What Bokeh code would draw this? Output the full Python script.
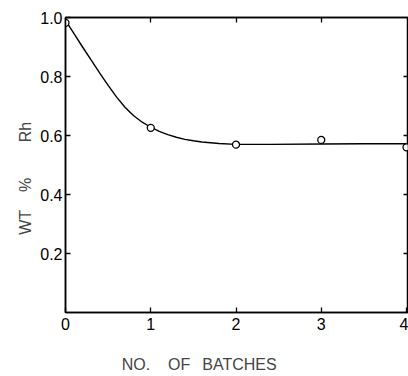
from bokeh.plotting import figure
from bokeh.models import Range1d, LinearAxis, FixedTicker, PrintfTickFormatter
from bokeh.embed import file_html
from bokeh.resources import INLINE

# ---- data ----
batches = [0, 1, 2, 3, 4]
wt_rh = [0.982, 0.626, 0.569, 0.585, 0.560]

curve_x = [0.0, 0.1, 0.2, 0.3, 0.4, 0.5, 0.6, 0.7, 0.8, 0.9, 1.0, 1.1, 1.2,
           1.3, 1.4, 1.5, 1.6, 1.8, 2.0, 2.4, 3.0, 3.5, 4.0]
curve_y = [0.99, 0.945, 0.900, 0.856, 0.812, 0.770, 0.730, 0.695, 0.667,
           0.645, 0.628, 0.614, 0.603, 0.594, 0.587, 0.582, 0.578, 0.573,
           0.570, 0.570, 0.571, 0.572, 0.572]

x_ticks = [0, 1, 2, 3, 4]
y_ticks = [0.2, 0.4, 0.6, 0.8, 1.0]
side_y_ticks = [0.2, 0.4, 0.6, 0.8]
top_x_ticks = [1, 2, 3]

NB = "\u00a0"
x_title = "NO." + NB * 4 + "OF" + NB * 2 + "\u2009" + "BATCHES" + NB * 17
y_title = "WT" + NB * 4 + "%" + NB * 8 + "Rh" + NB * 6

FONT = "Liberation Sans"

p = figure(width=408, height=376,
           x_range=Range1d(0, 4.023), y_range=Range1d(0, 1.0),
           x_axis_type=None, y_axis_type=None,
           output_backend="svg", toolbar_location=None,
           min_border_left=65, min_border_right=0,
           min_border_top=17, min_border_bottom=64)

p.outline_line_color = "black"
p.outline_line_width = 1.5
p.background_fill_color = "white"
p.border_fill_color = "white"


def style(ax, labels=True):
    ax.axis_line_color = "black"
    ax.axis_line_width = 1.5
    ax.major_tick_in = 5
    ax.major_tick_out = 0
    ax.major_tick_line_width = 1.3
    ax.major_tick_line_color = "black"
    ax.minor_tick_in = 0
    ax.minor_tick_out = 0
    ax.major_label_text_font = FONT
    ax.major_label_text_font_size = "16px"
    ax.major_label_text_color = "black"
    if not labels:
        ax.major_label_text_font_size = "0px"
        ax.major_label_text_color = None
        ax.major_label_standoff = 0


xb = LinearAxis(ticker=FixedTicker(ticks=x_ticks))
style(xb)
xb.major_label_standoff = 5
xb.axis_label = x_title
xb.axis_label_text_font = FONT
xb.axis_label_text_font_size = "16px"
xb.axis_label_text_font_style = "normal"
xb.axis_label_standoff = 23
p.add_layout(xb, "below")

yl = LinearAxis(ticker=FixedTicker(ticks=y_ticks),
                formatter=PrintfTickFormatter(format="%.1f"))
style(yl)
yl.major_label_standoff = 3
yl.axis_label = y_title
yl.axis_label_text_font = FONT
yl.axis_label_text_font_size = "16px"
yl.axis_label_text_font_style = "normal"
yl.axis_label_standoff = 3
p.add_layout(yl, "left")

xt = LinearAxis(ticker=FixedTicker(ticks=top_x_ticks))
style(xt, labels=False)
p.add_layout(xt, "above")

yr = LinearAxis(ticker=FixedTicker(ticks=side_y_ticks))
style(yr, labels=False)
p.add_layout(yr, "right")

p.xgrid.visible = False
p.ygrid.visible = False

p.line(curve_x, curve_y, line_color="black", line_width=1.4)
p.scatter(batches, wt_rh, size=7, marker="circle", fill_color="white",
          line_color="black", line_width=1.3)

open("out.html", "w").write(file_html(p, INLINE))
